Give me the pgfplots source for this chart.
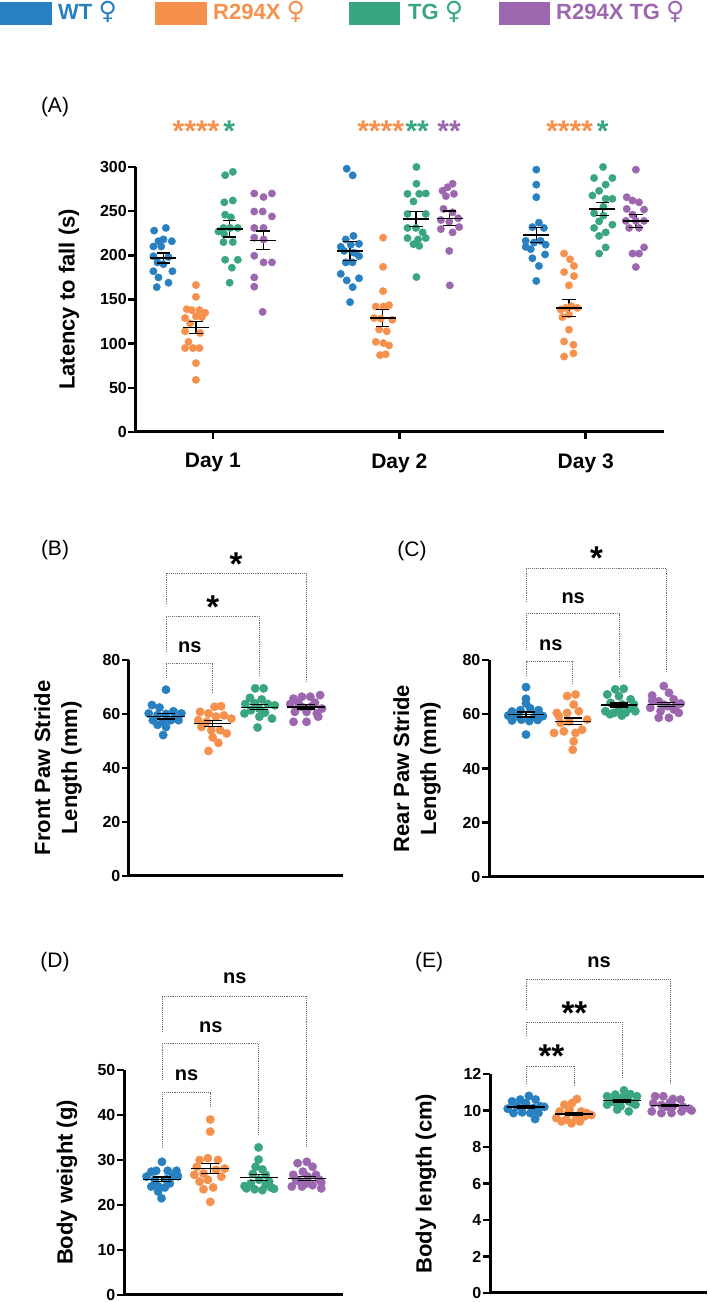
\documentclass[border=0pt]{standalone}
\usepackage{fontspec}
\setmainfont{Liberation Sans}
\newfontfamily\symfont{DejaVu Sans}
\usepackage{pgfplots}
\pgfplotsset{compat=1.18}
\usepackage{pgfplotstable}

\definecolor{cWT}{RGB}{40,128,192}
\definecolor{cR}{RGB}{246,145,77}
\definecolor{cTG}{RGB}{57,166,128}
\definecolor{cRTG}{RGB}{156,103,175}
\definecolor{brkcol}{RGB}{110,110,110}

\pgfplotstableread{
x m s
0.735 197 5.7
0.910 118.5 6.8
1.090 229.9 9.3
1.270 217 10.6
1.735 205 11
1.910 129 9.5
2.090 241 8.4
2.270 242 8.2
2.735 222.9 8.5
2.910 140.5 9.5
3.090 252.5 7.6
3.270 239 7.6
}\meanA
\pgfplotstableread{
x m s
1 59.2 1.0
2 56.4 1.1
3 62.5 0.9
4 62.6 0.8
}\meanB
\pgfplotstableread{
x m s
1 59.9 0.9
2 57.4 1.2
3 63.4 0.7
4 63.6 0.8
}\meanC
\pgfplotstableread{
x m s
1 25.7 0.5
2 28.1 1.1
3 26.1 0.7
4 25.9 0.5
}\meanD
\pgfplotstableread{
x m s
1 10.19 0.08
2 9.81 0.08
3 10.53 0.07
4 10.27 0.06
}\meanE

\pgfplotsset{
  prism/.style={
    scale only axis, clip=false, enlargelimits=false,
    axis x line=bottom, axis y line=left,
    axis line style={-, line width=3pt, black},
    tick style={line width=2.5pt, black},
    major tick length=7pt, tick align=outside,
    /pgf/number format/assume math mode=true,
    yticklabel style={font=\bfseries\fontsize{16}{16}\selectfont, inner sep=1.5pt},
    ylabel style={font=\bfseries\fontsize{22}{27}\selectfont, align=center, anchor=center},
    minor tick num=0,
  },
  dots/.style={only marks, mark=*, mark size=#1},
}
\tikzset{
  brk/.style={densely dotted, line width=0.9pt, draw=brkcol},
  sig/.style={font=\bfseries\fontsize{20}{20}\selectfont, inner sep=0pt},
  star/.style={font=\bfseries\fontsize{33}{33}\selectfont, inner sep=0pt, anchor=north},
}

\newcommand{\meansem}[3]{%
  \addplot[only marks, mark=-, mark size=#2, mark options={black, line width=1.3pt}] table[x=x,y=m]{#1};
  \addplot[draw=none, mark=none, error bars/.cd, y dir=both, y explicit, error mark=none, error bar style={draw=black, solid, line width=1.3pt}] table[x=x,y=m,y error=s]{#1};
  \addplot[only marks, mark=-, mark size=#3, mark options={black, line width=1.3pt}] table[x=x,y expr=\thisrow{m}+\thisrow{s}]{#1};
  \addplot[only marks, mark=-, mark size=#3, mark options={black, line width=1.3pt}] table[x=x,y expr=\thisrow{m}-\thisrow{s}]{#1};
}

\begin{document}
\begin{tikzpicture}
\path[use as bounding box] (0pt,0pt) rectangle (709pt,1302pt);

% ---------------- legend ----------------
\fill[cWT] (0pt,1277pt) rectangle (52pt,1300pt);
\node[anchor=base west, inner sep=0pt, text=cWT, font=\bfseries\fontsize{22}{22}\selectfont] at (58pt,1282pt) {WT {\symfont\mdseries\fontsize{25}{25}\selectfont ♀}};
\fill[cR] (155pt,1277pt) rectangle (207pt,1300pt);
\node[anchor=base west, inner sep=0pt, text=cR, font=\bfseries\fontsize{22}{22}\selectfont] at (213pt,1282pt) {R294X {\symfont\mdseries\fontsize{25}{25}\selectfont ♀}};
\fill[cTG] (349pt,1277pt) rectangle (400pt,1300pt);
\node[anchor=base west, inner sep=0pt, text=cTG, font=\bfseries\fontsize{22}{22}\selectfont] at (408pt,1282pt) {TG {\symfont\mdseries\fontsize{25}{25}\selectfont ♀}};
\fill[cRTG] (499pt,1277pt) rectangle (550pt,1300pt);
\node[anchor=base west, inner sep=0pt, text=cRTG, font=\bfseries\fontsize{22}{22}\selectfont] at (556pt,1282pt) {R294X TG {\symfont\mdseries\fontsize{25}{25}\selectfont ♀}};

% panel letters
\node[font=\fontsize{21}{21}\selectfont] at (55pt,1195pt) {(A)};
\node[font=\fontsize{21}{21}\selectfont] at (55pt,752pt) {(B)};
\node[font=\fontsize{21}{21}\selectfont] at (412pt,751pt) {(C)};
\node[font=\fontsize{21}{21}\selectfont] at (55pt,340pt) {(D)};
\node[font=\fontsize{21}{21}\selectfont] at (429pt,340pt) {(E)};

% ---------------- panel A ----------------
\begin{axis}[prism, at={(135.5pt,870pt)}, anchor=south west,
  width=528.5pt, height=265pt,
  xmin=0.585, xmax=3.42, ymin=0, ymax=300,
  ytick={0,50,...,300},
  xtick={1,2,3}, xticklabels={Day 1,Day 2,Day 3},
  xticklabel style={font=\bfseries\fontsize{21}{21}\selectfont, yshift=-11pt},
  ylabel={Latency to fall (s)},
  ylabel style={at={(axis description cs:-0.126,0.5)}},
]
\addplot[dots=3.7pt, cWT] coordinates {
(0.685,228) (0.748,231) (0.708,216) (0.735,218) (0.780,216) (0.681,210) (0.723,210) (0.681,199) (0.762,198) (0.703,192) (0.735,190) (0.681,182) (0.783,182) (0.708,175) (0.699,164) (0.762,169)
(1.718,298) (1.750,290.5) (1.754,222) (1.713,218) (1.686,209.6) (1.740,212) (1.784,213) (1.704,205) (1.757,203) (1.784,199) (1.713,192) (1.749,192) (1.686,179) (1.784,174) (1.718,171.6) (1.750,164) (1.736,147)
(2.735,297) (2.735,280) (2.735,265.8) (2.749,237) (2.714,232) (2.776,231) (2.678,216.4) (2.723,214.5) (2.758,216.4) (2.785,212) (2.678,209.6) (2.705,207) (2.782,201) (2.714,196.7) (2.749,188) (2.735,171)
};
\addplot[dots=3.7pt, cR] coordinates {
(0.909,166.4) (0.909,153) (0.860,139) (0.887,138) (0.928,138) (0.959,135) (0.851,129) (0.909,131) (0.941,130) (0.878,123) (0.851,114) (0.932,112) (0.869,102) (0.851,95) (0.893,95) (0.928,95) (0.909,78) (0.909,59)
(1.913,220) (1.913,187) (1.913,159.5) (1.874,142) (1.915,142) (1.945,143.5) (1.865,129) (1.901,128.3) (1.963,127) (1.892,116) (1.933,114) (1.874,102) (1.915,100.6) (1.945,98) (1.897,87) (1.927,88)
(2.884,202) (2.916,195.5) (2.937,188) (2.884,181) (2.937,176.5) (2.910,166) (2.866,138.6) (2.893,140.5) (2.923,142.4) (2.955,140.5) (2.910,133) (2.875,130) (2.910,115.8) (2.884,102.5) (2.934,98.7) (2.884,85.4) (2.934,89)
};
\addplot[dots=3.7pt, cTG] coordinates {
(1.066,290.7) (1.107,294.5) (1.061,260) (1.107,262) (1.066,246) (1.097,243) (1.057,231) (1.093,231) (1.134,231) (1.061,224) (1.030,227) (1.057,215) (1.107,215) (1.066,195) (1.134,195) (1.102,186) (1.090,169)
(2.092,300) (2.092,281) (2.044,269.6) (2.107,269.6) (2.142,270) (2.076,261) (2.044,246.8) (2.142,246.8) (2.044,231) (2.089,231) (2.125,226) (2.044,219.5) (2.101,218) (2.142,219.5) (2.076,212.6) (2.107,210.7) (2.092,175.4)
(3.093,300) (3.045,287.5) (3.143,287.5) (3.107,280) (3.072,273) (3.036,267.7) (3.143,264) (3.107,264) (3.095,255) (3.045,247.6) (3.095,245) (3.072,238.5) (3.143,234.7) (3.045,231) (3.107,226) (3.072,222) (3.107,209) (3.072,202)
};
\addplot[dots=3.7pt, cRTG] coordinates {
(1.222,270) (1.317,270) (1.272,266) (1.222,249.6) (1.267,249.6) (1.317,244) (1.222,231) (1.272,231) (1.222,220) (1.272,218) (1.222,199.5) (1.317,192) (1.272,192) (1.222,175) (1.222,164.5) (1.267,136)
(2.286,281) (2.259,277) (2.232,273) (2.293,269.6) (2.250,267) (2.237,252.5) (2.286,248.7) (2.223,240) (2.268,238) (2.321,232) (2.223,229.7) (2.286,226) (2.268,205) (2.271,166) (2.316,242)
(3.269,297) (3.220,265.8) (3.251,262) (3.286,260) (3.220,252.5) (3.313,251.7) (3.251,246) (3.215,239) (3.269,239) (3.313,239) (3.233,231) (3.286,231) (3.313,209) (3.251,202) (3.286,202) (3.269,186.8)
};
\meansem{\meanA}{13pt}{6.7pt}
\node[anchor=north, inner sep=0pt, text=cR, font=\bfseries\fontsize{30}{30}\selectfont] at (axis cs:0.91,353) {****};
\node[anchor=north, inner sep=0pt, text=cTG, font=\bfseries\fontsize{30}{30}\selectfont] at (axis cs:1.088,353) {*};
\node[anchor=north, inner sep=0pt, text=cR, font=\bfseries\fontsize{30}{30}\selectfont] at (axis cs:1.90,353) {****};
\node[anchor=north, inner sep=0pt, text=cTG, font=\bfseries\fontsize{30}{30}\selectfont] at (axis cs:2.096,353) {**};
\node[anchor=north, inner sep=0pt, text=cRTG, font=\bfseries\fontsize{30}{30}\selectfont] at (axis cs:2.267,353) {**};
\node[anchor=north, inner sep=0pt, text=cR, font=\bfseries\fontsize{30}{30}\selectfont] at (axis cs:2.914,353) {****};
\node[anchor=north, inner sep=0pt, text=cTG, font=\bfseries\fontsize{30}{30}\selectfont] at (axis cs:3.091,353) {*};
\end{axis}

% ---------------- panel B ----------------
\begin{axis}[prism, at={(129pt,426pt)}, anchor=south west,
  width=214pt, height=216pt,
  xmin=0.208, xmax=4.79, ymin=0, ymax=80,
  ytick={0,20,...,80}, xtick=\empty,
  ylabel={Front Paw Stride\\Length (mm)},
  ylabel style={at={(axis description cs:-0.332,0.5)}},
]
\addplot[dots=4.2pt, cWT] coordinates {
(1.00,69.0) (0.70,63.3) (0.86,62.4) (1.16,61.0) (0.63,60.2) (1.00,60.0) (1.33,60.2) (0.82,59.6) (1.18,58.5) (0.72,57.7) (0.93,57.1) (1.10,57.7) (1.27,57.7) (0.82,56.0) (1.00,55.2) (0.94,52.2)
};
\addplot[dots=4.2pt, cR] coordinates {
(2.04,62.7) (2.18,62.9) (1.73,60.8) (1.91,60.2) (2.24,59.5) (2.07,59.0) (2.40,58.3) (1.69,57.7) (1.87,57.1) (1.76,55.2) (1.97,54.0) (2.16,54.0) (2.30,52.8) (2.00,51.3) (2.12,49.3) (1.91,46.3)
};
\addplot[dots=4.2pt, cTG] coordinates {
(2.91,69.5) (3.09,69.5) (2.80,66.0) (3.05,65.4) (2.90,64.0) (3.18,63.7) (2.70,63.7) (3.33,63.2) (3.00,62.0) (2.82,61.4) (2.68,60.2) (3.12,60.5) (3.00,59.0) (3.27,58.3) (2.96,55.0)
};
\addplot[dots=4.2pt, cRTG] coordinates {
(3.73,65.7) (3.91,66.4) (4.09,66.4) (4.30,67.0) (3.66,63.7) (3.84,64.0) (4.19,64.2) (4.34,62.0) (3.76,60.8) (4.01,60.8) (4.23,60.2) (3.73,57.1) (4.01,57.1) (4.26,59.0) (3.90,62.7) (4.12,62.9)
};
\meansem{\meanB}{18.7pt}{9pt}
\draw[brk] (axis cs:1,73.3) -- (axis cs:1,78.9) -- (axis cs:2,78.9) -- (axis cs:2,67.8);
\draw[brk] (axis cs:1,83) -- (axis cs:1,96.3) -- (axis cs:3,96.3) -- (axis cs:3,74.4);
\draw[brk] (axis cs:1,100.7) -- (axis cs:1,112.2) -- (axis cs:4,112.2) -- (axis cs:4,71.5);
\node[sig] at (axis cs:1.51,84.9) {ns};
\node[star] at (axis cs:2.0,103.7) {*};
\node[star] at (axis cs:2.5,119.6) {*};
\end{axis}

% ---------------- panel C ----------------
\begin{axis}[prism, at={(489pt,425pt)}, anchor=south west,
  width=215pt, height=217pt,
  xmin=0.208, xmax=4.81, ymin=0, ymax=80,
  ytick={0,20,...,80}, xtick=\empty,
  ylabel={Rear Paw Stride\\Length (mm)},
  ylabel style={at={(axis description cs:-0.335,0.5)}},
]
\addplot[dots=4.2pt, cWT] coordinates {
(1.00,70.0) (1.00,65.7) (1.00,64.0) (0.70,61.0) (0.88,61.5) (1.09,62.2) (1.27,61.5) (0.62,59.5) (0.80,59.3) (1.18,59.0) (1.36,59.3) (0.70,57.7) (0.90,58.0) (1.07,57.5) (1.25,57.9) (1.00,52.5)
};
\addplot[dots=4.2pt, cR] coordinates {
(1.88,66.7) (2.06,67.3) (2.02,63.6) (1.66,60.5) (1.88,60.5) (2.13,61.1) (2.31,58.0) (1.74,56.8) (1.92,57.4) (1.60,53.1) (1.81,53.7) (2.06,53.1) (2.20,54.3) (2.02,50.0) (2.00,46.9) (1.70,59.3)
};
\addplot[dots=4.2pt, cTG] coordinates {
(2.91,69.2) (3.09,69.4) (2.74,67.3) (2.99,66.7) (3.24,65.5) (2.81,64.2) (3.06,63.6) (3.31,63.6) (2.70,61.1) (2.88,60.5) (3.13,60.5) (3.34,61.1) (2.99,61.8) (3.20,62.0) (2.80,60.0) (3.05,59.5)
};
\addplot[dots=4.2pt, cRTG] coordinates {
(3.95,70.4) (4.06,67.9) (3.70,66.9) (4.16,65.5) (3.84,64.8) (4.31,64.0) (4.02,63.0) (3.66,62.4) (4.16,61.8) (3.88,61.1) (4.27,60.5) (3.84,58.7) (4.06,58.7) (3.70,65.0) (3.95,63.5) (4.20,62.8)
};
\meansem{\meanC}{18pt}{9pt}
\draw[brk] (axis cs:1,74.1) -- (axis cs:1,79.3) -- (axis cs:2,79.3) -- (axis cs:2,71.5);
\draw[brk] (axis cs:1,83.7) -- (axis cs:1,97) -- (axis cs:3,97) -- (axis cs:3,73.7);
\draw[brk] (axis cs:1,101.4) -- (axis cs:1,113.9) -- (axis cs:4,113.9) -- (axis cs:4,75.2);
\node[sig] at (axis cs:1.53,85.5) {ns};
\node[sig] at (axis cs:2.01,102.9) {ns};
\node[star] at (axis cs:2.51,121.7) {*};
\end{axis}

% ---------------- panel D ----------------
\begin{axis}[prism, at={(124pt,7pt)}, anchor=south west,
  width=219pt, height=225pt,
  xmin=0.213, xmax=4.75, ymin=0, ymax=50,
  ytick={0,10,...,50}, xtick=\empty,
  ylabel={Body weight (g)},
  ylabel style={at={(axis description cs:-0.26,0.5)}},
]
\addplot[dots=4.2pt, cWT] coordinates {
(1.00,29.6) (0.78,27.4) (0.88,27.6) (1.12,27.6) (1.30,27.6) (0.68,26.3) (1.23,26.4) (0.85,25.6) (1.09,25.7) (0.92,24.2) (0.78,24.1) (1.06,23.9) (0.92,23.0) (0.99,21.5) (1.33,26.4) (1.16,24.8)
};
\addplot[dots=4.2pt, cR] coordinates {
(2.00,39.0) (2.00,36.3) (1.78,30.0) (1.95,30.4) (2.16,30.0) (1.72,28.5) (2.12,27.8) (2.30,28.1) (1.86,27.0) (1.67,26.7) (2.23,26.3) (1.78,25.2) (1.95,25.6) (2.06,23.9) (1.86,23.5) (2.00,20.7)
};
\addplot[dots=4.2pt, cTG] coordinates {
(3.00,32.8) (3.00,30.1) (2.94,28.5) (3.08,27.9) (2.88,26.9) (3.15,26.7) (3.01,25.6) (2.84,24.8) (3.22,25.2) (2.75,23.7) (2.92,23.5) (3.08,23.3) (3.26,23.9) (2.71,24.2) (3.32,23.6) (3.15,24.5)
};
\addplot[dots=4.2pt, cRTG] coordinates {
(4.00,29.6) (3.81,29.3) (4.12,28.5) (3.92,27.4) (4.19,26.7) (3.72,26.7) (4.02,26.3) (3.86,25.2) (4.26,25.6) (3.69,24.1) (3.90,24.1) (4.12,24.4) (4.30,23.7) (4.00,24.8) (3.78,25.5) (4.30,25.0)
};
\meansem{\meanD}{19pt}{9pt}
\draw[brk] (axis cs:1,32.7) -- (axis cs:1,44.9) -- (axis cs:2,44.9) -- (axis cs:2,42);
\draw[brk] (axis cs:1,47.8) -- (axis cs:1,55.8) -- (axis cs:3,55.8) -- (axis cs:3,35.6);
\draw[brk] (axis cs:1,58.4) -- (axis cs:1,66.4) -- (axis cs:4,66.4) -- (axis cs:4,32.7);
\node[sig] at (axis cs:1.51,48.9) {ns};
\node[sig] at (axis cs:2.01,59.6) {ns};
\node[sig] at (axis cs:2.51,70.4) {ns};
\end{axis}

% ---------------- panel E ----------------
\begin{axis}[prism, at={(490pt,9pt)}, anchor=south west,
  width=217pt, height=219pt,
  xmin=0.25, xmax=4.77, ymin=0, ymax=12,
  ytick={0,2,...,12}, xtick=\empty,
  ylabel={Body length (cm)},
  ylabel style={at={(axis description cs:-0.295,0.5)}},
]
\addplot[dots=4.2pt, cWT] coordinates {
(0.71,10.50) (0.88,10.60) (1.06,10.80) (1.20,10.60) (0.81,10.23) (0.99,10.30) (1.16,10.14) (1.30,10.23) (0.74,9.86) (0.92,9.90) (1.09,9.86) (1.26,9.86) (1.19,9.53) (0.62,10.10) (1.00,10.40) (1.38,10.20)
};
\addplot[dots=4.2pt, cR] coordinates {
(2.06,10.63) (1.80,10.32) (1.96,10.41) (1.70,9.95) (1.91,10.05) (2.15,9.95) (1.63,9.59) (1.84,9.50) (2.05,9.59) (2.22,9.68) (1.74,9.40) (1.95,9.30) (2.12,9.40) (1.88,9.86) (2.26,9.86) (2.36,9.75)
};
\addplot[dots=4.2pt, cTG] coordinates {
(3.04,11.10) (2.86,10.87) (3.17,10.90) (2.69,10.78) (3.31,10.78) (2.97,10.68) (2.80,10.50) (3.14,10.50) (2.69,10.32) (2.97,10.23) (3.28,10.32) (2.90,10.05) (3.14,9.95) (2.84,10.45) (3.08,10.70) (3.22,10.40)
};
\addplot[dots=4.2pt, cRTG] coordinates {
(3.69,10.78) (3.86,10.78) (4.06,10.63) (4.22,10.60) (3.65,10.40) (3.82,10.30) (4.06,10.23) (4.27,10.20) (3.62,9.95) (3.82,9.86) (4.03,9.86) (4.24,9.95) (3.94,10.20) (4.00,10.45) (4.40,10.10) (4.45,10.00)
};
\meansem{\meanE}{19pt}{9pt}
\draw[brk] (axis cs:1,11.45) -- (axis cs:1,12.44) -- (axis cs:2,12.44) -- (axis cs:2,11.29);
\draw[brk] (axis cs:1,14.08) -- (axis cs:1,14.85) -- (axis cs:3,14.85) -- (axis cs:3,11.78);
\draw[brk] (axis cs:1,15.5) -- (axis cs:1,17.2) -- (axis cs:4,17.2) -- (axis cs:4,11.4);
\node[star] at (axis cs:1.53,13.6) {**};
\node[star] at (axis cs:2.01,15.96) {**};
\node[sig] at (axis cs:2.52,18.1) {ns};
\end{axis}
\end{tikzpicture}
\end{document}
